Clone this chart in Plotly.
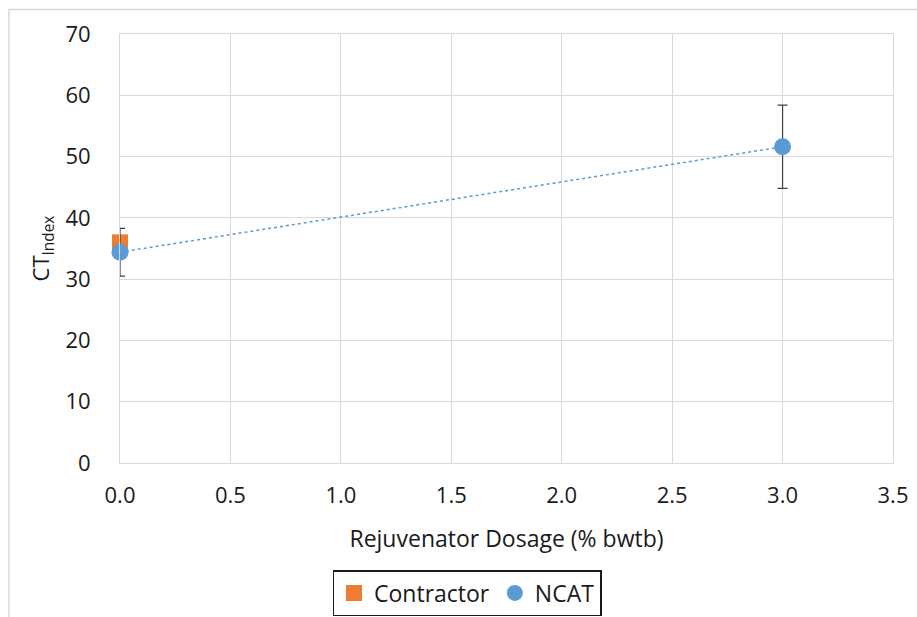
import plotly.graph_objects as go

# Rejuvenator dosage (% by weight of total binder) and CT Index results
contractor_x = [0.0]
contractor_y = [36.0]

ncat_x = [0.0, 3.0]
ncat_y = [34.4, 51.6]
ncat_err = [3.9, 6.8]

x_ticks = [0.0, 0.5, 1.0, 1.5, 2.0, 2.5, 3.0, 3.5]
y_ticks = [0, 10, 20, 30, 40, 50, 60, 70]

W, H = 917, 617
L, R, T, B = 120, 24, 34, 154
pw, ph = W - L - R, H - T - B

font = "'Open Sans', sans-serif"

fig = go.Figure()

# Linear trend through the NCAT points
fig.add_trace(go.Scatter(
    x=ncat_x, y=ncat_y, mode="lines",
    line=dict(color="#5b9bd5", width=1.5, dash="dot"),
    showlegend=False, hoverinfo="skip", cliponaxis=False,
))

fig.add_trace(go.Scatter(
    x=contractor_x, y=contractor_y, mode="markers", name="Contractor",
    marker=dict(symbol="square", size=16, color="#ed7d31"),
    cliponaxis=False,
))

fig.add_trace(go.Scatter(
    x=ncat_x, y=ncat_y, mode="markers", name="NCAT",
    marker=dict(symbol="circle", size=17, color="#5b9bd5"),
    error_y=dict(type="data", array=ncat_err, visible=True,
                 color="#404040", thickness=1.2, width=5),
    cliponaxis=False,
))

fig.update_layout(
    width=W, height=H,
    margin=dict(l=L, r=R, t=T, b=B, autoexpand=False),
    paper_bgcolor="white", plot_bgcolor="white",
    font=dict(family=font, size=22, color="#1a1a1a"),
    xaxis=dict(
        range=[0, 3.5], tickvals=x_ticks,
        ticktext=[f"{v:.1f}" for v in x_ticks],
        showgrid=True, gridcolor="#d9d9d9", gridwidth=1,
        zeroline=False, showline=True, linecolor="#d9d9d9", linewidth=1,
        mirror=True, ticks="", ticklabelstandoff=13,
        tickfont=dict(size=22),
        title=dict(text="Rejuvenator Dosage (% bwtb)", font=dict(size=23), standoff=22),
    ),
    yaxis=dict(
        range=[0, 70], tickvals=y_ticks,
        showgrid=True, gridcolor="#d9d9d9", gridwidth=1,
        zeroline=False, showline=True, linecolor="#d9d9d9", linewidth=1,
        mirror=True, ticks="", ticklabelstandoff=24,
        tickfont=dict(size=22),
        title=dict(text="CT<sub>Index</sub>", font=dict(size=22), standoff=9),
    ),
    legend=dict(
        orientation="h", x=(467 - L) / pw, xanchor="center",
        y=-(593 - T - ph) / ph, yanchor="middle",
        bordercolor="#1a1a1a", borderwidth=1.5, bgcolor="white",
        font=dict(size=23), itemwidth=30, tracegroupgap=0,
    ),
    shapes=[
        # light frame around the whole chart area
        dict(type="rect", xref="paper", yref="paper",
             x0=(9 - L) / pw, x1=(W + 5 - L) / pw,
             y0=-(H + 5 - T - ph) / ph, y1=1 + (T - 9.5) / ph,
             line=dict(color="#d9d9d9", width=1.5), layer="below"),
    ],
)

fig.write_html("out.html")
